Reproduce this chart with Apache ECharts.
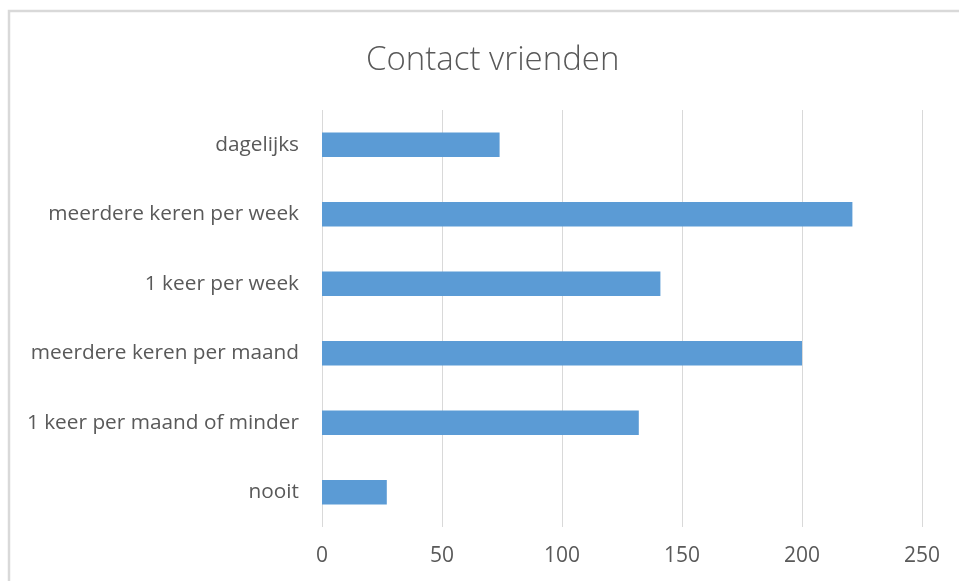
<!DOCTYPE html>
<html>
<head>
<meta charset="utf-8">
<script src="https://cdn.jsdelivr.net/npm/echarts@6/dist/echarts.min.js"></script>
<style>
  html, body { margin: 0; padding: 0; background: #fff; }
  #chart { width: 959px; height: 581px; }
</style>
</head>
<body>
<div id="chart"></div>
<script>
// categories, top to bottom
const categories = [
  'dagelijks',
  'meerdere keren per week',
  '1 keer per week',
  'meerdere keren per maand',
  '1 keer per maand of minder',
  'nooit'
]
const values = [74, 221, 141, 200, 132, 27]
const xTicks = [0, 50, 100, 150, 200, 250]

const chart = echarts.init(document.getElementById('chart'))
const option = {
  backgroundColor: '#fff',
  animation: false,
  graphic: [{
    type: 'rect',
    shape: { x: 9, y: 11, width: 1000, height: 1000 },
    style: { fill: 'none', stroke: '#d9d9d9', lineWidth: 2.5 },
    silent: true
  }],
  title: {
    text: 'Contact vrienden',
    left: 361,
    top: 36,
    textStyle: {
      fontFamily: 'Open Sans',
      fontSize: 33,
      fontWeight: 300,
      color: '#595959',
      lineHeight: 40
    }
  },
  grid: {
    left: 322,
    right: 37,
    top: 110,
    bottom: 54,
    containLabel: false
  },
  xAxis: {
    type: 'value',
    min: xTicks[0],
    max: xTicks[xTicks.length - 1],
    interval: 50,
    axisLine: { show: false },
    axisTick: { show: false },
    splitLine: { lineStyle: { color: '#d9d9d9', width: 1 } },
    axisLabel: {
      margin: 19,
      fontFamily: 'Open Sans',
      fontSize: 21,
      color: '#595959'
    }
  },
  yAxis: {
    type: 'category',
    inverse: true,
    data: categories,
    axisLine: { show: false },
    axisTick: { show: false },
    axisLabel: {
      margin: 23,
      fontFamily: 'Open Sans',
      fontSize: 20.8,
      color: '#595959'
    }
  },
  series: [{
    type: 'bar',
    data: values,
    barWidth: '35%',
    itemStyle: { color: '#5b9bd5' }
  }]
}
chart.setOption(option)
</script>
</body>
</html>
